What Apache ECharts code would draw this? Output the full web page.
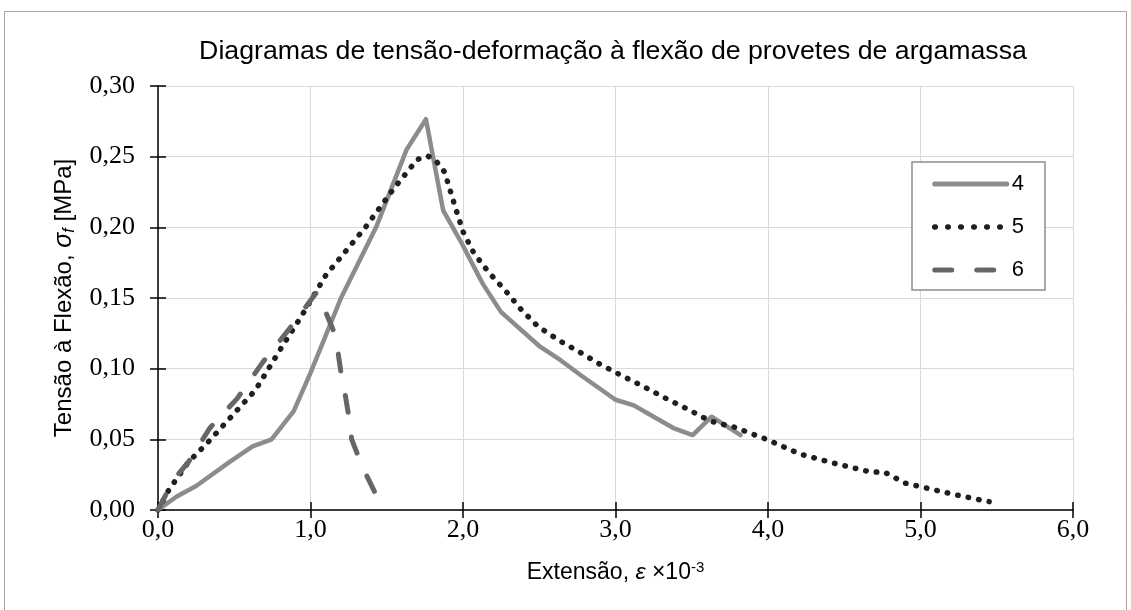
<!DOCTYPE html>
<html>
<head>
<meta charset="utf-8">
<script src="https://cdn.jsdelivr.net/npm/echarts@6/dist/echarts.min.js"></script>
<style>html,body{margin:0;padding:0;background:#fff}#c{width:1131px;height:610px}</style>
</head>
<body>
<div id="c"></div>
<script>
const titleText = 'Diagramas de tensão-deformação à flexão de provetes de argamassa';
const seriesNames = ['4', '5', '6'];
const xTicks = { min: 0, max: 6, interval: 1 };
const yTicks = { min: 0, max: 0.3, interval: 0.05 };

const s4 = [[0,0],[0.12,0.0094],[0.25,0.017],[0.47,0.034],[0.62,0.045],[0.745,0.05],[0.89,0.07],[1.0,0.097],[1.2,0.15],[1.43,0.20],[1.63,0.255],[1.757,0.2765],[1.87,0.212],[1.98,0.191],[2.13,0.16],[2.25,0.14],[2.5,0.116],[2.64,0.106],[2.77,0.0955],[3.0,0.078],[3.12,0.074],[3.25,0.066],[3.38,0.058],[3.506,0.053],[3.63,0.066],[3.82,0.053]];
const s5 = [[0,0],[0.07,0.014],[0.2,0.034],[0.32,0.047],[0.48,0.066],[0.64,0.085],[0.81,0.115],[0.94,0.137],[1.1,0.166],[1.36,0.20],[1.55,0.228],[1.7,0.248],[1.77,0.2505],[1.83,0.246],[1.88,0.239],[1.95,0.214],[2.0,0.197],[2.07,0.182],[2.17,0.168],[2.28,0.155],[2.38,0.142],[2.49,0.13],[2.63,0.12],[2.76,0.112],[2.9,0.103],[3.05,0.0946],[3.19,0.087],[3.33,0.079],[3.47,0.0715],[3.62,0.063],[3.7,0.0606],[3.77,0.059],[3.99,0.05],[4.21,0.0396],[4.45,0.0326],[4.68,0.0267],[4.76,0.027],[4.9,0.019],[5.06,0.015],[5.22,0.011],[5.37,0.0076],[5.45,0.0059]];
const s6 = [[0,0],[0.1,0.021],[0.2,0.034],[0.34,0.058],[0.52,0.079],[0.69,0.105],[0.86,0.128],[1.04,0.154],[1.1,0.14],[1.15,0.127],[1.18,0.112],[1.2,0.097],[1.23,0.08],[1.25,0.067],[1.27,0.05],[1.31,0.039],[1.37,0.024],[1.42,0.013],[1.47,0.006],[1.52,0]];

const chart = echarts.init(document.getElementById('c'), null, { renderer: 'canvas' });
const serif = '"Liberation Serif", "Times New Roman", serif';
const sans = '"Liberation Sans", Arial, sans-serif';

function baseX(idx) {
  return {
    type: 'value', min: xTicks.min, max: xTicks.max, interval: xTicks.interval,
    position: 'bottom',
    axisLine: { show: idx === 0, lineStyle: { color: '#000', width: 1.5 } },
    axisTick: { show: true, inside: idx === 1, length: 8, lineStyle: { color: '#000', width: 1.5 } },
    axisLabel: { show: idx === 0, color: '#000', fontFamily: serif, fontSize: 26, margin: 7,
      formatter: v => v.toFixed(1).replace('.', ',') },
    splitLine: { show: idx === 0, lineStyle: { color: '#d9d9d9', width: 1 } }
  };
}
function baseY(idx) {
  return {
    type: 'value', min: yTicks.min, max: yTicks.max, interval: yTicks.interval,
    position: 'left',
    axisLine: { show: idx === 0, lineStyle: { color: '#000', width: 1.5 } },
    axisTick: { show: true, inside: idx === 1, length: 8, lineStyle: { color: '#000', width: 1.5 } },
    axisLabel: { show: idx === 0, color: '#000', fontFamily: serif, fontSize: 26, margin: 23,
      formatter: v => v.toFixed(2).replace('.', ',') },
    splitLine: { show: idx === 0, lineStyle: { color: '#d9d9d9', width: 1 } }
  };
}
const x0 = baseX(0);
x0.name = 'Extensão, {i|ε} ×10{sup|-3}';
x0.nameLocation = 'middle';
x0.nameGap = 50;
x0.nameTextStyle = { color: '#000', fontFamily: sans, fontSize: 23,
  rich: { i: { fontStyle: 'italic', fontFamily: sans, fontSize: 23, color: '#000' },
          sup: { fontSize: 15, fontFamily: sans, color: '#000', verticalAlign: 'top', padding: [0, 0, 10, 0] } } };
const y0 = baseY(0);
y0.name = 'Tensão à Flexão, {i|σ}{sub|f} [MPa]';
y0.nameLocation = 'middle';
y0.nameGap = 80;
y0.nameTextStyle = { color: '#000', fontFamily: sans, fontSize: 24,
  rich: { i: { fontStyle: 'italic', fontFamily: sans, fontSize: 25, color: '#000' },
          sub: { fontStyle: 'italic', fontSize: 16, fontFamily: sans, color: '#000', padding: [12, 0, 0, 0] } } };

const legendData = [
  { name: seriesNames[0], lineStyle: { width: 5, color: '#8c8c8c', type: 'solid', cap: 'round' } },
  { name: seriesNames[1], lineStyle: { width: 5.5, color: '#1f1f1f', type: [0.5, 12.5], cap: 'round' } },
  { name: seriesNames[2], lineStyle: { width: 5, color: '#666666', type: [17, 25], cap: 'round' } }
];

chart.setOption({
  animation: false,
  backgroundColor: '#fff',
  graphic: [
    { type: 'rect', shape: { x: 4.5, y: 11.5, width: 1122, height: 700 }, style: { fill: 'none', stroke: '#a6a6a6', lineWidth: 1 }, silent: true },
    { type: 'text', x: 613, y: 52, style: { text: titleText, font: '26.7px ' + sans, fill: '#000', textAlign: 'center', textVerticalAlign: 'middle' } }
  ],
  grid: { left: 158, right: 58, top: 86, bottom: 100, containLabel: false },
  legend: {
    data: legendData, orient: 'vertical', left: 912, top: 162,
    itemWidth: 72, itemHeight: 20, itemGap: 21,
    padding: [11, 21, 9, 20],
    borderColor: '#8c8c8c', borderWidth: 1.5, backgroundColor: '#fff',
    itemStyle: { opacity: 0 },
    textStyle: { color: '#000', fontFamily: sans, fontSize: 22, lineHeight: 20 }
  },
  xAxis: [x0, baseX(1)],
  yAxis: [y0, baseY(1)],
  series: [
    { name: seriesNames[0], type: 'line', data: s4, symbol: 'none', xAxisIndex: 0, yAxisIndex: 0,
      lineStyle: { color: '#8c8c8c', width: 4.5, cap: 'round', join: 'round' }, itemStyle: { color: '#8c8c8c' } },
    { name: seriesNames[1], type: 'line', data: s5, symbol: 'none', xAxisIndex: 0, yAxisIndex: 0,
      lineStyle: { color: '#1f1f1f', width: 5.5, type: [0.5, 10.2], cap: 'round', join: 'round' }, itemStyle: { color: '#1f1f1f' } },
    { name: seriesNames[2], type: 'line', data: s6, symbol: 'none', xAxisIndex: 0, yAxisIndex: 0,
      lineStyle: { color: '#666666', width: 5, type: [17, 25], cap: 'round', join: 'round' }, itemStyle: { color: '#666666' } }
  ]
});
</script>
</body>
</html>
